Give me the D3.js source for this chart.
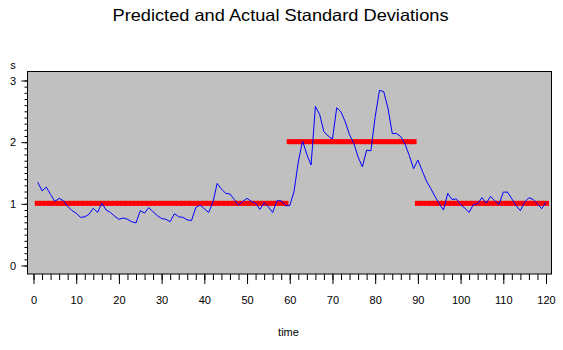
<!DOCTYPE html>
<html lang="en">
<head>
  <meta charset="UTF-8" />
  <title>Predicted and Actual Standard Deviations</title>
  <script src="https://cdn.jsdelivr.net/npm/d3@7"></script>
  <style>
    body { margin: 0; background: #fff; }
    text { font-family: "Liberation Sans", Arial, sans-serif; fill: #000; }
  </style>
</head>
<body>
<script>
  // time points 1..120
  var times = d3.range(1, 121);

  // actual standard deviation (blue line)
  var actual = [
    1.35, 1.21, 1.27, 1.15, 1.04, 1.09, 1.05, 0.96, 0.89, 0.85,
    0.78, 0.79, 0.83, 0.93, 0.86, 1.01, 0.90, 0.86, 0.80, 0.75,
    0.77, 0.75, 0.71, 0.69, 0.89, 0.85, 0.94, 0.87, 0.81, 0.76,
    0.75, 0.71, 0.84, 0.79, 0.78, 0.74, 0.73, 0.94, 0.98, 0.92,
    0.86, 1.02, 1.33, 1.24, 1.17, 1.16, 1.07, 0.98, 1.04, 1.09,
    1.04, 1.01, 0.91, 1.02, 0.95, 0.86, 1.05, 1.05, 0.97, 0.97,
    1.20, 1.68, 2.02, 1.80, 1.63, 2.58, 2.45, 2.17, 2.10, 2.05,
    2.56, 2.49, 2.33, 2.12, 1.98, 1.76, 1.60, 1.87, 1.86, 2.41,
    2.84, 2.82, 2.55, 2.14, 2.14, 2.09, 1.97, 1.78, 1.57, 1.71,
    1.54, 1.37, 1.25, 1.12, 1.00, 0.90, 1.17, 1.07, 1.08, 0.99,
    0.93, 0.86, 0.99, 1.00, 1.10, 1.01, 1.12, 1.05, 0.99, 1.19,
    1.19, 1.08, 0.97, 0.89, 1.03, 1.10, 1.07, 1.00, 0.92, 1.03
  ];

  // predicted standard deviation (red markers)
  var predicted = times.map(function(t) {
    return (t >= 60 && t <= 89) ? 2 : 1;
  });

  var xMajor = d3.range(0, 121, 10);
  var xMinor = d3.range(0, 121, 2);
  var yMajor = [0, 1, 2, 3];
  var yMinor = d3.range(0, 31).map(function(i) { return i / 10; });

  var w = 563,
    h = 350;

  var frame = { left: 27.5, right: 551.5, top: 71.5, bottom: 274 };

  var xScale = d3.scaleLinear().domain([0, 120]).range([33.5, 546]);
  var yScale = d3.scaleLinear().domain([0, 3]).range([265.5, 80.5]);

  var svg = d3.select("body").append("svg")
    .attr("width", w)
    .attr("height", h);

  svg.append("text")
    .attr("x", 280.5)
    .attr("y", 20.5)
    .attr("text-anchor", "middle")
    .attr("font-size", 16.5)
    .attr("textLength", 336)
    .attr("lengthAdjust", "spacingAndGlyphs")
    .text("Predicted and Actual Standard Deviations");

  // plot area
  svg.append("rect")
    .attr("x", frame.left)
    .attr("y", frame.top)
    .attr("width", frame.right - frame.left)
    .attr("height", frame.bottom - frame.top)
    .attr("fill", "#c0c0c0")
    .attr("stroke", "#000")
    .attr("stroke-width", 1);

  // x axis
  var xAxisMinor = d3.axisBottom(xScale).tickValues(xMinor).tickSize(6).tickFormat("");
  var xAxisMajor = d3.axisBottom(xScale).tickValues(xMajor).tickSize(10).tickPadding(12);

  svg.append("g")
    .attr("transform", "translate(0," + frame.bottom + ")")
    .call(xAxisMinor)
    .call(function(g) { g.select(".domain").remove(); });

  var gx = svg.append("g")
    .attr("transform", "translate(0," + frame.bottom + ")")
    .call(xAxisMajor)
    .call(function(g) { g.select(".domain").remove(); });
  gx.selectAll("text")
    .attr("font-family", "Liberation Sans, Arial, sans-serif")
    .attr("font-size", 11);

  // y axis
  var yAxisMinor = d3.axisLeft(yScale).tickValues(yMinor).tickSize(3).tickFormat("");
  var yAxisMajor = d3.axisLeft(yScale).tickValues(yMajor).tickSize(6).tickFormat(d3.format("d"));

  svg.append("g")
    .attr("transform", "translate(" + frame.left + ",0)")
    .call(yAxisMinor)
    .call(function(g) { g.select(".domain").remove(); });

  var gy = svg.append("g")
    .attr("transform", "translate(" + frame.left + ",0)")
    .call(yAxisMajor)
    .call(function(g) { g.select(".domain").remove(); });
  gy.selectAll("text")
    .attr("text-anchor", "middle")
    .attr("x", -14.5)
    .attr("font-family", "Liberation Sans, Arial, sans-serif")
    .attr("font-size", 11);

  svg.selectAll(".tick line").attr("stroke", "#000");

  svg.append("text")
    .attr("x", 13)
    .attr("y", 68.5)
    .attr("text-anchor", "middle")
    .attr("font-size", 11)
    .text("s");

  svg.append("text")
    .attr("x", 288.5)
    .attr("y", 335.5)
    .attr("text-anchor", "middle")
    .attr("font-size", 11)
    .text("time");

  // predicted markers
  svg.append("g")
    .selectAll("rect")
    .data(times)
    .enter()
    .append("rect")
    .attr("fill", "#ff0000")
    .attr("x", function(t) { return xScale(t) - 3; })
    .attr("y", function(t, i) { return yScale(predicted[i]) - 3; })
    .attr("width", 6)
    .attr("height", 5);

  // actual line
  var line = d3.line()
    .x(function(t) { return xScale(t); })
    .y(function(t, i) { return yScale(actual[i]); });

  svg.append("path")
    .datum(times)
    .attr("fill", "none")
    .attr("stroke", "#0000ff")
    .attr("stroke-width", 1)
    .attr("d", line);
</script>
</body>
</html>
